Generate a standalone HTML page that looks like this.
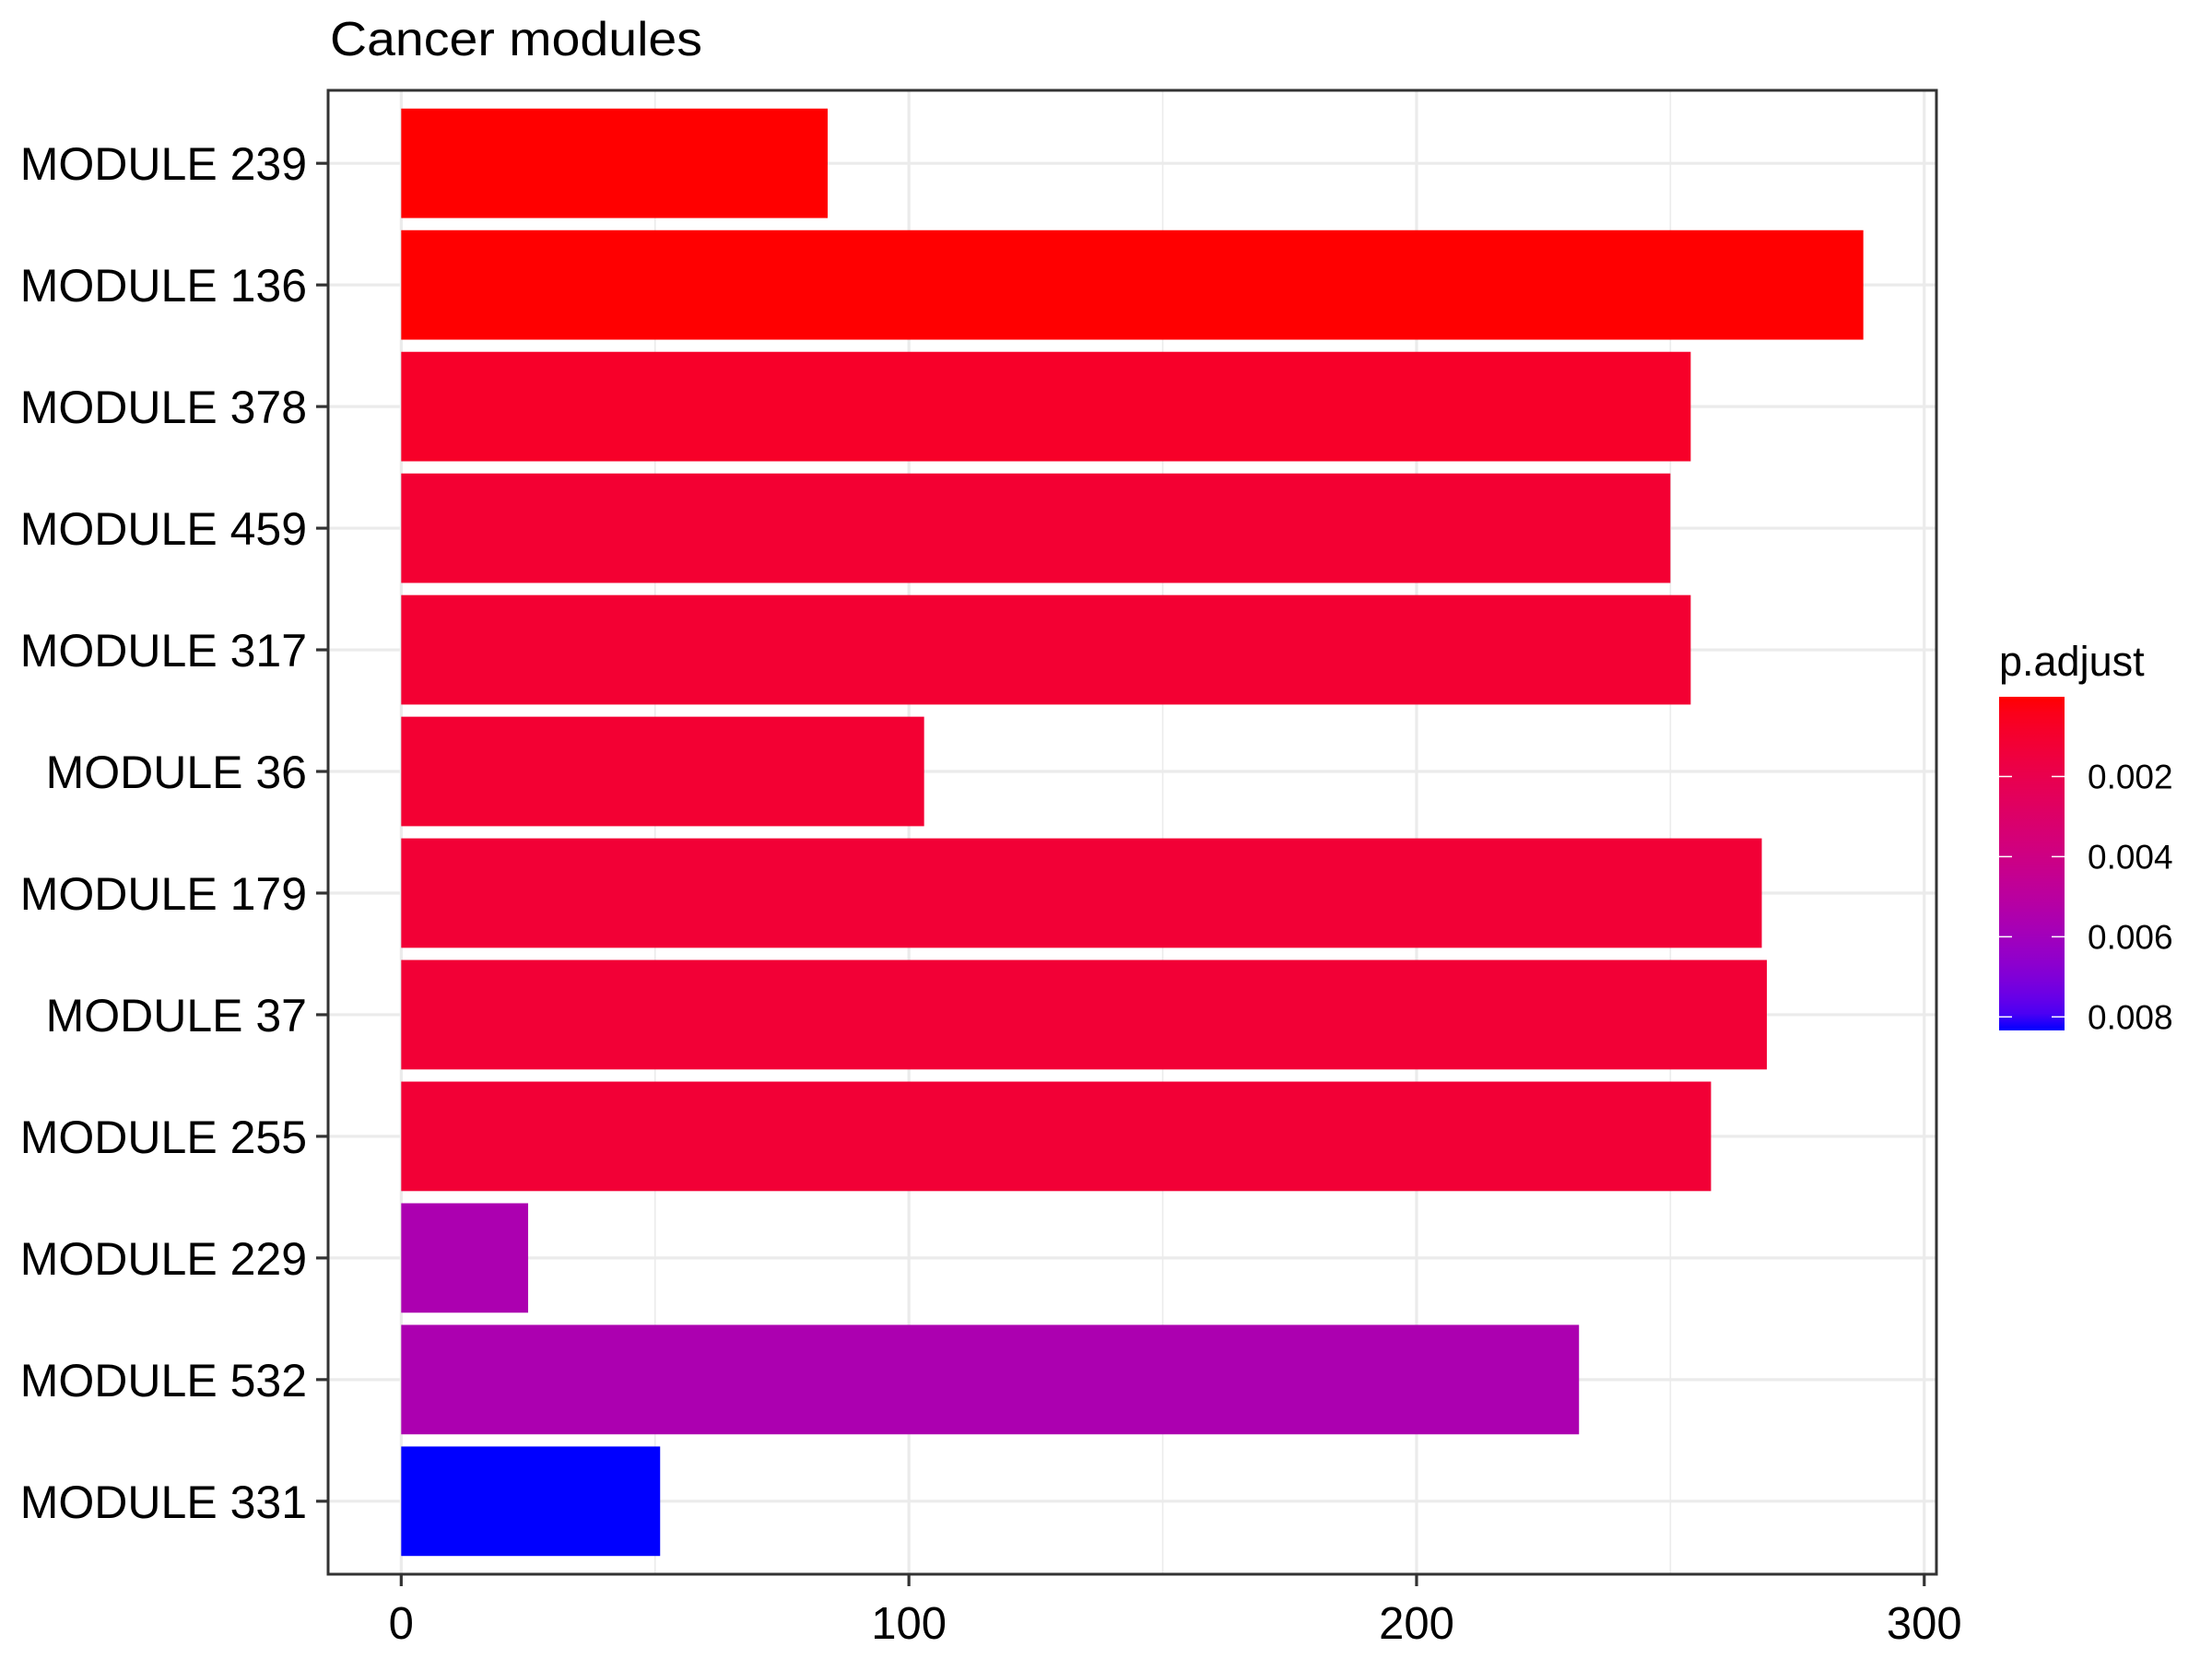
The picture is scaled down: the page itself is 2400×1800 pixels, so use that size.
<!DOCTYPE html>
<html><head><meta charset="utf-8"><style>
html,body{margin:0;padding:0;background:#fff;}
svg{display:block;font-family:"Liberation Sans",Arial,sans-serif;}
</style></head>
<body>
<svg id="chart" width="2400" height="1800" viewBox="0 0 2400 1800" xmlns="http://www.w3.org/2000/svg">
<rect width="2400" height="1800" fill="#fff"/>
<text x="358" y="60" font-size="52" textLength="404" lengthAdjust="spacingAndGlyphs" fill="#000">Cancer modules</text>
<g id="grid"></g><g id="bars"></g><g id="axes"></g><g id="legend"></g>
</svg>
<script>
const categories = ["MODULE 239","MODULE 136","MODULE 378","MODULE 459","MODULE 317","MODULE 36","MODULE 179","MODULE 37","MODULE 255","MODULE 229","MODULE 532","MODULE 331"];
const counts = [84, 288, 254, 250, 254, 103, 268, 269, 258, 25, 232, 51];
const pAdjust = [0.00001, 0.00002, 0.0008, 0.0011, 0.0011, 0.0011, 0.0012, 0.0012, 0.0012, 0.0055, 0.0055, 0.0082];
const xTicks = [0, 100, 200, 300];
const xMinor = [50, 150, 250];
const legendTicks = [0.002, 0.004, 0.006, 0.008];
const legendTickLabels = ["0.002","0.004","0.006","0.008"];

const NS = "http://www.w3.org/2000/svg";
const P = {l:356, r:2101, t:98, b:1708};
const xMax = Math.max(...counts);
const xLo = -0.05*xMax, xHi = 1.05*xMax;
const xs = v => P.l + (v - xLo)/(xHi - xLo)*(P.r - P.l);
const n = categories.length;
const band = (P.b - P.t)/(n - 1 + 1.2);
const ys = i => P.t + 0.6*band + i*band;
const pMin = Math.min(...pAdjust), pMax = Math.max(...pAdjust);

function mk(tag, attrs, parent){const e=document.createElementNS(NS,tag);for(const k in attrs)e.setAttribute(k,attrs[k]);parent.appendChild(e);return e;}

function toLab(r,g,b){
  const f=c=>{c/=255;return c<=0.04045?c/12.92:Math.pow((c+0.055)/1.055,2.4);};
  r=f(r);g=f(g);b=f(b);
  let X=(0.4124*r+0.3576*g+0.1805*b)/0.95047,Y=0.2126*r+0.7152*g+0.0722*b,Z=(0.0193*r+0.1192*g+0.9505*b)/1.08883;
  const h=t=>t>0.008856?Math.cbrt(t):7.787*t+16/116;
  const fx=h(X),fy=h(Y),fz=h(Z);
  return [116*fy-16,500*(fx-fy),200*(fy-fz)];
}
function fromLab(L,a,bb){
  const fy=(L+16)/116,fx=fy+a/500,fz=fy-bb/200;
  const g=t=>t*t*t>0.008856?t*t*t:(t-16/116)/7.787;
  const X=g(fx)*0.95047,Y=g(fy),Z=g(fz)*1.08883;
  let r=3.2406*X-1.5372*Y-0.4986*Z,gg=-0.9689*X+1.8758*Y+0.0415*Z,b=0.0557*X-0.2040*Y+1.0570*Z;
  const c=v=>{v=Math.max(0,Math.min(1,v));v=v<=0.0031308?12.92*v:1.055*Math.pow(v,1/2.4)-0.055;return Math.round(v*255);};
  return "rgb("+c(r)+","+c(gg)+","+c(b)+")";
}
const LR=toLab(255,0,0), LB=toLab(0,0,255);
function colorAt(t){t=Math.max(0,Math.min(1,t));return fromLab(LR[0]+(LB[0]-LR[0])*t,LR[1]+(LB[1]-LR[1])*t,LR[2]+(LB[2]-LR[2])*t);}
const colorOf = p => colorAt((p - pMin)/(pMax - pMin));

const grid=document.getElementById('grid');
mk('rect',{x:P.l,y:P.t,width:P.r-P.l,height:P.b-P.t,fill:'#fff'},grid);
xMinor.forEach(v=>{const l=mk('line',{x1:xs(v),x2:xs(v),y1:P.t,y2:P.b,stroke:'#ebebeb','stroke-width':1.6},grid);

});
xTicks.forEach(v=>{const l=mk('line',{x1:xs(v),x2:xs(v),y1:P.t,y2:P.b,stroke:'#ebebeb','stroke-width':3.2},grid);

});
categories.forEach((c,i)=>{const l=mk('line',{x1:P.l,x2:P.r,y1:ys(i),y2:ys(i),stroke:'#ebebeb','stroke-width':3.2},grid);

});

const bars=document.getElementById('bars');
categories.forEach((c,i)=>{
  const h=band*0.9;
  const r=mk('rect',{x:xs(0),y:ys(i)-h/2,width:xs(counts[i])-xs(0),height:h,fill:colorOf(pAdjust[i])},bars);
  
  
});

const axes=document.getElementById('axes');
const border=mk('rect',{x:P.l,y:P.t,width:P.r-P.l,height:P.b-P.t,fill:'none',stroke:'#333','stroke-width':3},axes);


categories.forEach((c,i)=>{
  mk('line',{x1:P.l-13,x2:P.l,y1:ys(i),y2:ys(i),stroke:'#333','stroke-width':3.2},axes);
  const t=mk('text',{x:333,y:ys(i)+18,'text-anchor':'end','font-size':50,fill:'#000'},axes);
  t.textContent=c;
  
  
});
xTicks.forEach(v=>{
  mk('line',{x1:xs(v),x2:xs(v),y1:P.b,y2:P.b+13,stroke:'#333','stroke-width':3.2},axes);
  const t=mk('text',{x:xs(v),y:P.b+70,'text-anchor':'middle','font-size':49,fill:'#000'},axes);
  t.textContent=String(v);
  
  
});

const lg=document.getElementById('legend');
const LG={x:2169,w:71,t:756,b:1112,bEnd:1118};
const lt=mk('text',{x:2169,y:733,'font-size':45,fill:'#000'},lg);
lt.textContent='p.adjust';


const defs=mk('defs',{},lg);
const grad=mk('linearGradient',{id:'pg',x1:0,y1:0,x2:0,y2:1},defs);
for(let k=0;k<=20;k++){mk('stop',{offset:(k/20),'stop-color':colorAt(k/20)},grad);}
const lbar=mk('rect',{x:LG.x,y:LG.t,width:LG.w,height:LG.bEnd-LG.t,fill:'url(#pg)'},lg);


const ly = p => LG.t + (p - pMin)/(pMax - pMin)*(LG.b - LG.t);
legendTicks.forEach((p,k)=>{
  const y=ly(p);
  mk('line',{x1:LG.x,x2:LG.x+14,y1:y,y2:y,stroke:'#fff','stroke-width':1.5},lg);
  mk('line',{x1:LG.x+LG.w-14,x2:LG.x+LG.w,y1:y,y2:y,stroke:'#fff','stroke-width':1.5},lg);
  const t=mk('text',{x:2265,y:y+13,'font-size':37,fill:'#000'},lg);
  t.textContent=legendTickLabels[k];
  
  
});
</script>
</body></html>
